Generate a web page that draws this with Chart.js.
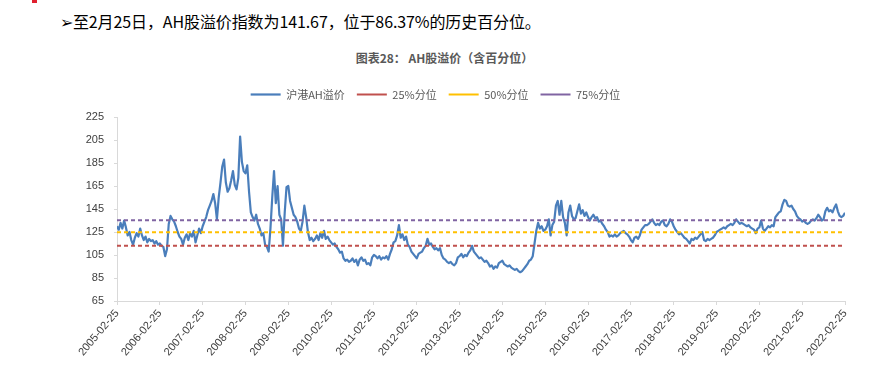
<!DOCTYPE html>
<html><head><meta charset="utf-8">
<script src="https://cdn.jsdelivr.net/npm/chart.js@4.4.1/dist/chart.umd.min.js"></script>
<style>
html,body{margin:0;padding:0;background:#fff;width:889px;height:381px;overflow:hidden;position:relative;font-family:'Noto Sans CJK SC','Noto Sans',sans-serif;}
#mark{position:absolute;left:32px;top:0;width:5px;height:3px;background:#e0202e;}
#head{position:absolute;left:60px;top:9px;font-size:16px;color:#000;white-space:nowrap;line-height:24px;letter-spacing:-0.1px;}
#ctitle{position:absolute;left:0;width:889px;top:49px;text-align:center;font-size:12px;font-weight:bold;color:#595959;}
#wrap{position:absolute;left:26px;top:77px;width:863px;height:304px;}
</style></head><body>
<div id="mark"></div>
<div id="head">➢至2月25日，AH股溢价指数为141.67，位于86.37%的历史百分位。</div>
<div id="ctitle">图表28： AH股溢价（含百分位）</div>
<div id="wrap"><canvas id="c"></canvas></div>
<script>
// half-monthly readings, 2005-02-25 .. 2022-02-25
const startYear = 2005;
const pointsPerYear = 24;
const premium = [
130,127,133,128,135,129,122,125,118,114,120,124,121,128,122,118,121,116,119,117,118,115,117,114,
115,113,112,104,110,132,139,136,134,130,125,121,119,114,120,123,118,124,121,126,116,122,128,124,
130,134,138,144,148,152,158,150,136,155,168,182,188,168,160,163,170,178,166,162,172,208,186,178,
176,183,160,142,138,135,140,132,128,122,124,114,112,108,128,155,178,150,165,140,136,113,142,164,
165,152,146,140,138,134,128,126,134,148,138,125,118,120,117,119,122,118,124,120,126,119,121,118,
116,114,115,112,110,107,108,102,100,101,99,100,102,99,101,96,101,103,100,101,97,98,96,103,
105,104,102,104,101,103,102,104,101,106,110,116,117,122,131,120,123,118,121,114,112,108,106,104,
102,106,107,108,111,113,119,114,115,112,110,111,109,111,105,102,101,99,98,99,97,96,98,103,
104,106,103,105,104,107,109,113,108,106,104,102,103,101,99,100,98,95,96,93,95,94,98,99,
100,97,96,95,96,94,93,92,93,91,90,91,93,95,97,100,101,104,115,126,133,128,130,126,
127,130,136,122,131,134,148,152,140,152,138,133,122,142,148,139,136,137,143,149,141,144,139,142,
138,135,138,140,137,138,134,135,132,130,127,125,121,122,121,123,121,122,124,125,126,124,123,121,
118,116,120,121,119,122,127,129,131,131,132,134,136,133,131,132,131,134,135,131,130,132,136,134,
130,127,125,123,124,122,120,119,117,115,119,118,120,119,121,123,125,118,117,119,118,119,120,122,
125,126,127,128,129,128,130,131,132,131,133,136,134,132,133,132,131,130,131,129,128,127,124,128,
129,135,128,126,128,130,129,131,130,138,140,142,143,149,153,152,148,147,148,145,143,139,137,136,
134,135,133,132,133,135,136,135,137,140,138,135,136,143,146,143,144,142,146,149,143,139,138,139,
141.67
];
const pct25 = [113.0, 113.0];
const pct50 = [124.8, 124.8];
const pct75 = [135.2, 135.2];
const tickLabels = ['2005-02-25','2006-02-25','2007-02-25','2008-02-25','2009-02-25','2010-02-25','2011-02-25','2012-02-25','2013-02-25','2014-02-25','2015-02-25','2016-02-25','2017-02-25','2018-02-25','2019-02-25','2020-02-25','2021-02-25','2022-02-25'];
const yTicks = [65,85,105,125,145,165,185,205,225];

const nYears = tickLabels.length - 1;
const mainPts = premium.map((v,i)=>({x:i/pointsPerYear, y:v}));
const flat = arr => arr.map((v,i)=>({x: i===0?0:nYears, y:v}));

const legendGap = {
  id:'legendGap',
  beforeInit(chart){
    const lg = chart.legend;
    if (!lg) return;
    const fit = lg.fit;
    lg.fit = function(){ fit.call(this); this.height += 7; };
  }
};

Chart.defaults.font.family = "'Liberation Sans','Noto Sans CJK SC',sans-serif";
Chart.defaults.color = '#404040';
new Chart(document.getElementById('c'), {
  type:'line',
  plugins:[legendGap],
  data:{datasets:[
    {label:'沪港AH溢价', data:mainPts, borderColor:'#4a7ebb', backgroundColor:'#4a7ebb', borderWidth:2.2, pointRadius:0, tension:0, order:1, borderJoinStyle:'round'},
    {label:'25%分位', data:flat(pct25), borderColor:'#c0504d', backgroundColor:'#c0504d', borderWidth:2, borderDash:[4,3], pointRadius:0, order:0},
    {label:'50%分位', data:flat(pct50), borderColor:'#ffc000', backgroundColor:'#ffc000', borderWidth:2, borderDash:[4,3], pointRadius:0, order:0},
    {label:'75%分位', data:flat(pct75), borderColor:'#8064a2', backgroundColor:'#8064a2', borderWidth:2, borderDash:[4,3], pointRadius:0, order:0}
  ]},
  options:{
    responsive:true, maintainAspectRatio:false, animation:false,
    layout:{padding:{top:0,right:44,bottom:0,left:0}},
    plugins:{
      tooltip:{enabled:false},
      legend:{position:'top', labels:{usePointStyle:true, pointStyle:'line', pointStyleWidth:30, padding:12, color:'#595959', font:{size:11, family:"'Noto Sans CJK SC',sans-serif"}, sort:(a,b)=>a.datasetIndex-b.datasetIndex}}
    },
    scales:{
      x:{type:'linear', min:0, max:nYears,
        afterBuildTicks:(s)=>{s.ticks = tickLabels.map((t,i)=>({value:i}));},
        afterFit:(s)=>{s.height=80;},
        ticks:{autoSkip:false, minRotation:50, maxRotation:50, padding:2, color:'#404040', font:{size:11}, callback:(v)=>tickLabels[Math.round(v)]},
        grid:{drawOnChartArea:false, drawTicks:true, tickLength:4, color:'#d9d9d9'},
        border:{display:true, color:'#d9d9d9'}
      },
      y:{min:65, max:225,
        afterBuildTicks:(s)=>{s.ticks = yTicks.map(v=>({value:v}));},
        afterFit:(s)=>{s.width=91;},
        ticks:{padding:10, color:'#404040', font:{size:11}},
        grid:{drawOnChartArea:false, drawTicks:true, tickLength:3, color:'#d9d9d9'},
        border:{display:true, color:'#d9d9d9'}
      }
    }
  }
});
</script>
</body></html>
